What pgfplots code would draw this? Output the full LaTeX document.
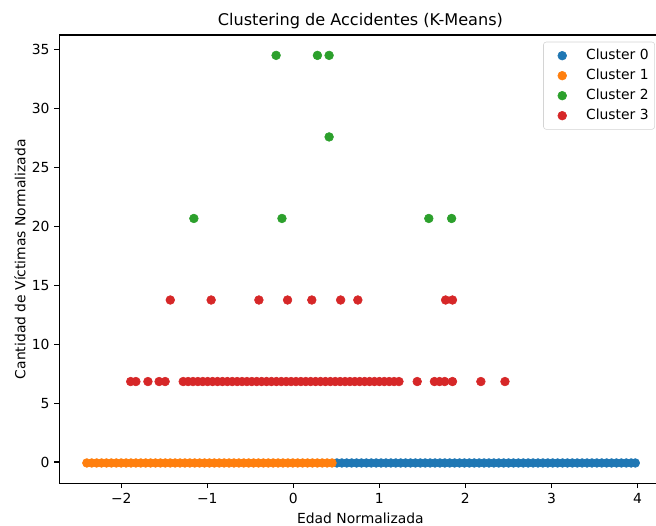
\documentclass[border=0pt]{standalone}
\usepackage{pgfplots}
\pgfplotsset{compat=1.18}
\usepackage{fontspec}
\setmainfont{DejaVu Sans}
\definecolor{c0}{HTML}{1F77B4}
\definecolor{c1}{HTML}{FF7F0E}
\definecolor{c2}{HTML}{2CA02C}
\definecolor{c3}{HTML}{D62728}
\begin{document}
\fontsize{10}{12}\selectfont
\begin{tikzpicture}
\begin{axis}[
  name=ax,
  at={(0,0)}, anchor=south west,
  scale only axis,
  width=433.6pt, height=322.8pt,
  xmin=-2.72, xmax=4.28,
  ymin=-1.81, ymax=36.24,
  xtick={-2,-1,0,1,2,3,4},
  xticklabels={−2,−1,0,1,2,3,4},
  ytick={0,5,10,15,20,25,30,35},
  /pgf/number format/assume math mode=true,
  ticklabel style={font=\fontsize{10}{12}\selectfont, text=black},
  tick align=outside,
  xtick pos=bottom, ytick pos=left,
  major tick length=3.5pt,
  tick style={line width=0.8pt, black},
  axis line style={line width=0.8pt, black},
  title={Clustering de Accidentes (K-Means)},
  title style={font=\fontsize{11.6}{14}\selectfont, at={(axis description cs:0.5,1.0335)}, anchor=center, yshift=-7pt},
  xlabel={Edad Normalizada},
  xlabel style={font=\fontsize{10}{12}\selectfont, at={(axis description cs:0.5,-0.0774)}, anchor=center},
  ylabel={Cantidad de Víctimas Normalizada},
  ylabel style={font=\fontsize{10}{12}\selectfont, at={(axis description cs:-0.0653,0.5)}, anchor=center, rotate=0},
  legend style={at={(0.989,0.985)}, anchor=north east, draw=black!17, rounded corners=2pt,
    fill=white, font=\fontsize{10}{12}\selectfont, inner xsep=3.3pt, inner ysep=4.1pt,
    row sep=2.9pt, column sep=6pt,
    nodes={inner sep=1pt, text height=7.5pt, text depth=2pt}},
  legend cell align=left,
  legend image code/.code={\path (0pt,0pt) (20pt,0pt);\draw[mark repeat=2,mark phase=2,#1] plot coordinates {(0pt,0pt)(10pt,0pt)(20pt,0pt)};},
  every axis plot/.append style={only marks, mark=*, mark size=3.15pt},
]
% Cluster 0
\addplot[c0, mark options={draw=c0, fill=c0}] coordinates {
(0.507,-0.08)(0.564,-0.08)(0.621,-0.08)(0.678,-0.08)(0.735,-0.08)(0.792,-0.08)(0.849,-0.08)(0.906,-0.08)(0.963,-0.08)(1.020,-0.08)
(1.077,-0.08)(1.134,-0.08)(1.191,-0.08)(1.248,-0.08)(1.305,-0.08)(1.362,-0.08)(1.419,-0.08)(1.476,-0.08)(1.533,-0.08)(1.590,-0.08)
(1.647,-0.08)(1.704,-0.08)(1.761,-0.08)(1.818,-0.08)(1.875,-0.08)(1.932,-0.08)(1.989,-0.08)(2.046,-0.08)(2.103,-0.08)(2.160,-0.08)
(2.217,-0.08)(2.274,-0.08)(2.331,-0.08)(2.388,-0.08)(2.445,-0.08)(2.502,-0.08)(2.559,-0.08)(2.616,-0.08)(2.673,-0.08)(2.730,-0.08)
(2.787,-0.08)(2.844,-0.08)(2.901,-0.08)(2.958,-0.08)(3.015,-0.08)(3.072,-0.08)(3.129,-0.08)(3.186,-0.08)(3.243,-0.08)(3.300,-0.08)
(3.357,-0.08)(3.414,-0.08)(3.471,-0.08)(3.528,-0.08)(3.585,-0.08)(3.642,-0.08)(3.699,-0.08)(3.756,-0.08)(3.813,-0.08)(3.870,-0.08)
(3.927,-0.08)(3.975,-0.08)
};
\addlegendentry{Cluster 0}
% Cluster 1
\addplot[c1, mark options={draw=c1, fill=c1}] coordinates {
(-2.400,-0.08)(-2.343,-0.08)(-2.286,-0.08)(-2.229,-0.08)(-2.172,-0.08)(-2.115,-0.08)(-2.058,-0.08)(-2.001,-0.08)(-1.944,-0.08)(-1.887,-0.08)
(-1.830,-0.08)(-1.773,-0.08)(-1.716,-0.08)(-1.659,-0.08)(-1.602,-0.08)(-1.545,-0.08)(-1.488,-0.08)(-1.431,-0.08)(-1.374,-0.08)(-1.317,-0.08)
(-1.260,-0.08)(-1.203,-0.08)(-1.146,-0.08)(-1.089,-0.08)(-1.032,-0.08)(-0.975,-0.08)(-0.918,-0.08)(-0.861,-0.08)(-0.804,-0.08)(-0.747,-0.08)
(-0.690,-0.08)(-0.633,-0.08)(-0.576,-0.08)(-0.519,-0.08)(-0.462,-0.08)(-0.405,-0.08)(-0.348,-0.08)(-0.291,-0.08)(-0.234,-0.08)(-0.177,-0.08)
(-0.120,-0.08)(-0.063,-0.08)(-0.006,-0.08)(0.051,-0.08)(0.108,-0.08)(0.165,-0.08)(0.222,-0.08)(0.279,-0.08)(0.336,-0.08)(0.393,-0.08)
(0.450,-0.08)
};
\addlegendentry{Cluster 1}
% Cluster 2
\addplot[c2, mark options={draw=c2, fill=c2}] coordinates {
(-0.200,34.51)(0.280,34.51)(0.416,34.51)(0.416,27.59)
(-1.156,20.67)(-0.132,20.67)(1.575,20.67)(1.840,20.67)
};
\addlegendentry{Cluster 2}
% Cluster 3
\addplot[c3, mark options={draw=c3, fill=c3}] coordinates {
(-1.890,6.83)(-1.830,6.83)(-1.690,6.83)(-1.560,6.83)(-1.490,6.83)
(-1.280,6.83)(-1.223,6.83)(-1.166,6.83)(-1.109,6.83)(-1.052,6.83)(-0.995,6.83)(-0.938,6.83)(-0.881,6.83)(-0.824,6.83)(-0.767,6.83)
(-0.710,6.83)(-0.653,6.83)(-0.596,6.83)(-0.539,6.83)(-0.482,6.83)(-0.425,6.83)(-0.368,6.83)(-0.311,6.83)(-0.254,6.83)(-0.197,6.83)
(-0.140,6.83)(-0.083,6.83)(-0.026,6.83)(0.031,6.83)(0.088,6.83)(0.145,6.83)(0.202,6.83)(0.259,6.83)(0.316,6.83)(0.373,6.83)
(0.430,6.83)(0.487,6.83)(0.544,6.83)(0.601,6.83)(0.658,6.83)(0.715,6.83)(0.772,6.83)(0.829,6.83)(0.886,6.83)(0.943,6.83)
(1.000,6.83)(1.057,6.83)(1.114,6.83)(1.171,6.83)(1.228,6.83)
(1.440,6.83)(1.640,6.83)(1.700,6.83)(1.760,6.83)(1.850,6.83)(2.180,6.83)(2.460,6.83)
(-1.430,13.75)(-0.955,13.75)(-0.400,13.75)(-0.067,13.75)(0.215,13.75)(0.550,13.75)(0.750,13.75)(1.770,13.75)(1.850,13.75)
};
\addlegendentry{Cluster 3}
\end{axis}
\pgfresetboundingbox
\useasboundingbox ([xshift=-42.7pt,yshift=-30pt]ax.south west) rectangle ([xshift=429.6pt,yshift=348pt]ax.south west);
\end{tikzpicture}
\end{document}
